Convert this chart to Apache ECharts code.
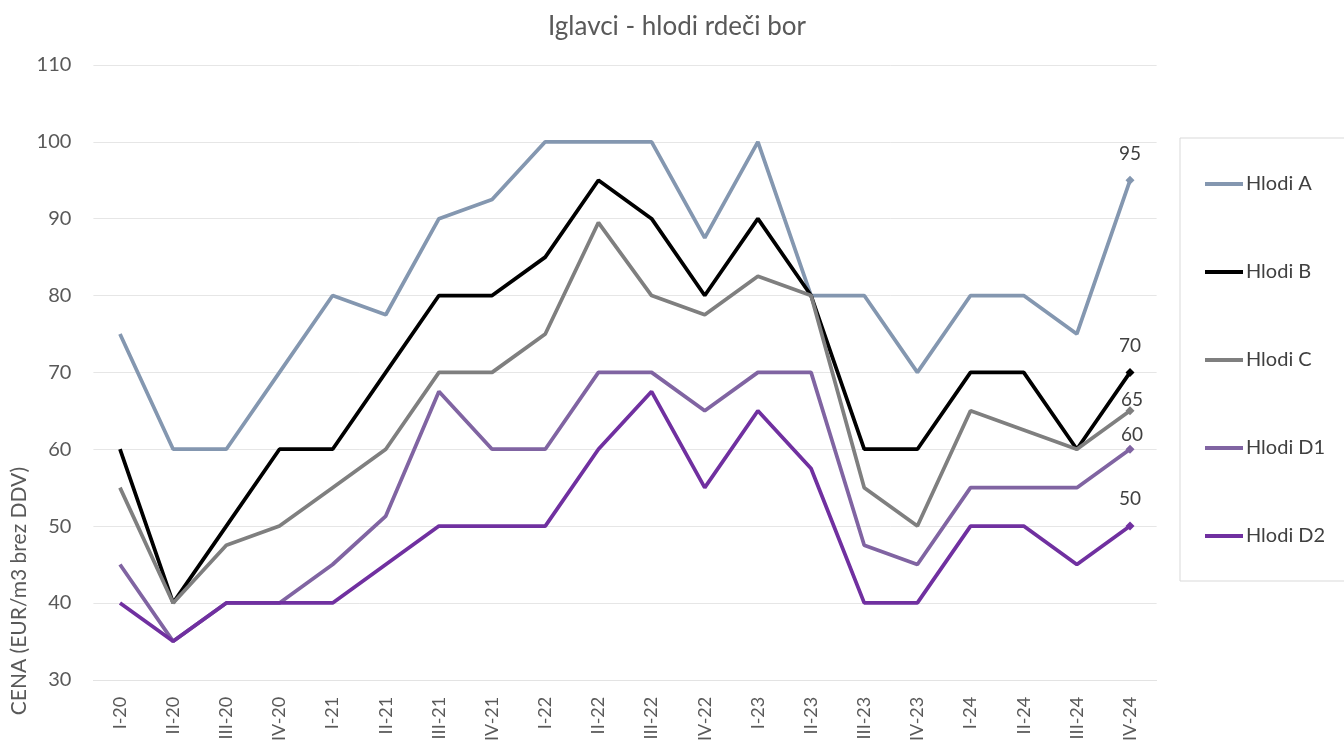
<!DOCTYPE html>
<html>
<head>
<meta charset="utf-8">
<script src="https://cdn.jsdelivr.net/npm/echarts@6/dist/echarts.min.js"></script>
<style>
  html, body { margin: 0; padding: 0; background: #fff; }
  #chart { width: 1344px; height: 744px; }
</style>
</head>
<body>
<div id="chart"></div>
<script>
// quarters
const categories = [
  'I-20', 'II-20', 'III-20', 'IV-20',
  'I-21', 'II-21', 'III-21', 'IV-21',
  'I-22', 'II-22', 'III-22', 'IV-22',
  'I-23', 'II-23', 'III-23', 'IV-23',
  'I-24', 'II-24', 'III-24', 'IV-24'
]
const seriesNames = ['Hlodi A', 'Hlodi B', 'Hlodi C', 'Hlodi D1', 'Hlodi D2']
const hlodiA = [75, 60, 60, 70, 80, 77.5, 90, 92.5, 100, 100, 100, 87.5, 100, 80, 80, 70, 80, 80, 75, 95]
const hlodiB = [60, 40, 50, 60, 60, 70, 80, 80, 85, 95, 90, 80, 90, 80, 60, 60, 70, 70, 60, 70]
const hlodiC = [55, 40, 47.5, 50, 55, 60, 70, 70, 75, 89.5, 80, 77.5, 82.5, 80, 55, 50, 65, 62.5, 60, 65]
const hlodiD1 = [45, 35, 40, 40, 45, 51.3, 67.5, 60, 60, 70, 70, 65, 70, 70, 47.5, 45, 55, 55, 55, 60]
const hlodiD2 = [40, 35, 40, 40, 40, 45, 50, 50, 50, 60, 67.5, 55, 65, 57.5, 40, 40, 50, 50, 45, 50]
const yTicks = [30, 40, 50, 60, 70, 80, 90, 100, 110]

const colors = ['#8497B0', '#000000', '#7F7F7F', '#8064A2', '#7030A0']
const labelOffsets = [[0, -26], [0, -27], [2, -11], [2, -14], [0, -27]]
const font = 'Lato, "Open Sans", sans-serif'

const chart = echarts.init(document.getElementById('chart'))

function makeSeries(name, values, idx) {
  const last = values.length - 1
  return {
    name: name,
    type: 'line',
    symbol: 'none',
    smooth: false,
    lineStyle: { color: colors[idx], width: 3.75 },
    itemStyle: { color: colors[idx] },
    data: values.map((v, i) => i === last ? {
      value: v,
      symbol: 'diamond',
      symbolSize: 9,
      label: {
        show: true,
        position: 'inside',
        offset: labelOffsets[idx],
        color: '#404040',
        fontSize: 19,
        fontFamily: font
      }
    } : v),
    animation: false
  }
}

const allValues = [hlodiA, hlodiB, hlodiC, hlodiD1, hlodiD2]

chart.setOption({
  title: {
    text: 'Iglavci - hlodi rdeči bor',
    left: 672,
    textAlign: 'center',
    top: 9,
    textStyle: { color: '#595959', fontSize: 26, fontWeight: 'normal', fontFamily: font }
  },
  grid: { left: 93.4, right: 187.4, top: 65, bottom: 62, containLabel: false },
  legend: {
    orient: 'vertical',
    left: 1180,
    top: 138,
    padding: [36, 60, 35, 25],
    itemGap: 68,
    itemWidth: 38,
    itemHeight: 4,
    icon: 'rect',
    borderColor: '#D9D9D9',
    borderWidth: 1,
    data: seriesNames,
    textStyle: { color: '#404040', fontSize: 20, fontFamily: font, padding: [0, 0, 0, -2] }
  },
  xAxis: {
    type: 'category',
    data: categories,
    boundaryGap: true,
    axisLine: { lineStyle: { color: '#E3E3E3' } },
    axisTick: { show: false },
    axisLabel: {
      rotate: 90,
      margin: 17,
      interval: 0,
      color: '#595959',
      fontSize: 18,
      fontFamily: font
    }
  },
  yAxis: {
    type: 'value',
    min: yTicks[0],
    max: yTicks[yTicks.length - 1],
    interval: 10,
    axisLine: { show: false },
    axisTick: { show: false },
    splitLine: { lineStyle: { color: '#E6E6E6', width: 1 } },
    axisLabel: { color: '#595959', fontSize: 20, margin: 22, fontFamily: font }
  },
  graphic: [{
    type: 'text',
    left: 9,
    top: 467,
    rotation: Math.PI / 2,
    style: {
      text: 'CENA (EUR/m3 brez DDV)',
      fill: '#595959',
      fontSize: 21,
      fontFamily: font
    }
  }],
  series: seriesNames.map((n, i) => makeSeries(n, allValues[i], i))
})
</script>
</body>
</html>
